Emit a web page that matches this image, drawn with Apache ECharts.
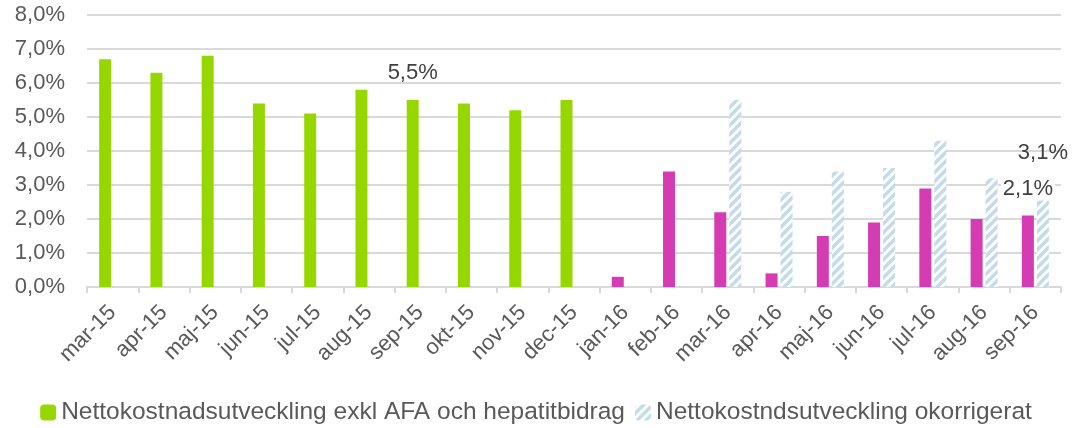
<!DOCTYPE html>
<html>
<head>
<meta charset="utf-8">
<script src="https://cdn.jsdelivr.net/npm/echarts@6/dist/echarts.min.js"></script>
<style>
  html, body { margin: 0; padding: 0; background: #fff; }
  #chart { width: 1072px; height: 428px; }
</style>
</head>
<body>
<div id="chart"></div>
<script>
const categories = ['mar-15', 'apr-15', 'maj-15', 'jun-15', 'jul-15', 'aug-15', 'sep-15', 'okt-15', 'nov-15', 'dec-15',
  'jan-16', 'feb-16', 'mar-16', 'apr-16', 'maj-16', 'jun-16', 'jul-16', 'aug-16', 'sep-16'];
const exklValues = [6.7, 6.3, 6.8, 5.4, 5.1, 5.8, 5.5, 5.4, 5.2, 5.5,
  0.3, 3.4, 2.2, 0.4, 1.5, 1.9, 2.9, 2.0, 2.1];
const okorrValues = [null, null, null, null, null, null, null, null, null, null,
  null, null, 5.5, 2.8, 3.4, 3.5, 4.3, 3.2, 3.1];
const exklLabelled = ['sep-15', 'sep-16'];
const okorrLabelled = ['sep-16'];
const yTicks = [0, 8, 1]; // min, max, interval

const GREEN = '#97d700';
const MAGENTA = '#d53cb4';
const HATCH = '#c3dbea';
const FONT = '"Liberation Sans", Arial, sans-serif';

const fmt = (v) => v.toFixed(1).replace('.', ',') + '%';

// diagonal stripe pattern for the uncorrected series
function hatchPattern() {
  const c = document.createElement('canvas');
  c.width = 9; c.height = 9;
  const ctx = c.getContext('2d');
  ctx.fillStyle = '#fff';
  ctx.fillRect(0, 0, 9, 9);
  ctx.strokeStyle = HATCH;
  ctx.lineWidth = 3.5;
  ctx.beginPath();
  ctx.moveTo(-2, 11); ctx.lineTo(11, -2);
  ctx.moveTo(-2, 2); ctx.lineTo(2, -2);
  ctx.moveTo(7, 11); ctx.lineTo(11, 7);
  ctx.stroke();
  return c;
}
const hatch = { image: hatchPattern(), repeat: 'repeat' };

const labelStyle = {
  show: true,
  position: 'top',
  distance: 16,
  fontSize: 22,
  fontFamily: FONT,
  color: '#404040',
  formatter: (p) => fmt(p.value),
};

const chart = echarts.init(document.getElementById('chart'));

chart.setOption({
  animation: false,
  backgroundColor: '#fff',
  textStyle: { fontFamily: FONT },
  grid: { left: 87, right: 11, top: 15, bottom: 141 },
  legend: {
    bottom: -2,
    left: 'center',
    itemWidth: 16,
    itemHeight: 16,
    itemGap: 10,
    textStyle: { fontSize: 24.5, color: '#595959', fontFamily: FONT },
    data: [
      { name: 'Nettokostnadsutveckling exkl AFA och hepatitbidrag', itemStyle: { color: GREEN } },
      { name: 'Nettokostndsutveckling okorrigerat', itemStyle: { color: hatch } },
    ],
  },
  xAxis: {
    type: 'category',
    data: categories,
    axisLine: { lineStyle: { color: '#d9d9d9', width: 2 } },
    axisTick: { show: true, length: 6, lineStyle: { color: '#d9d9d9', width: 2 } },
    axisLabel: { rotate: 45, interval: 0, fontSize: 22, color: '#595959', margin: 22, fontFamily: FONT },
  },
  yAxis: {
    type: 'value',
    min: yTicks[0],
    max: yTicks[1],
    interval: yTicks[2],
    axisLine: { show: false },
    axisTick: { show: false },
    splitLine: { lineStyle: { color: '#d9d9d9', width: 2 } },
    axisLabel: { fontSize: 22, color: '#595959', margin: 22, formatter: fmt, fontFamily: FONT },
  },
  series: [
    {
      name: 'Nettokostnadsutveckling exkl AFA och hepatitbidrag',
      type: 'bar',
      barWidth: 12,
      barGap: '25%',
      itemStyle: { color: GREEN },
      data: exklValues.map((v, i) => {
        const cat = categories[i];
        const item = { value: v, itemStyle: { color: cat.endsWith('-15') ? GREEN : MAGENTA } };
        if (exklLabelled.includes(cat)) {
          item.label = Object.assign({}, labelStyle,
            cat.endsWith('-16') ? { backgroundColor: '#fff', padding: [1, 2, 1, 2], distance: 15 } : {});
        }
        return item;
      }),
      z: 3,
    },
    {
      name: 'Nettokostndsutveckling okorrigerat',
      type: 'bar',
      barWidth: 12,
      itemStyle: { color: hatch },
      data: okorrValues.map((v, i) => {
        const item = { value: v };
        if (okorrLabelled.includes(categories[i])) item.label = Object.assign({}, labelStyle, { distance: 18 });
        return item;
      }),
      z: 2,
    },
  ],
});
</script>
</body>
</html>
